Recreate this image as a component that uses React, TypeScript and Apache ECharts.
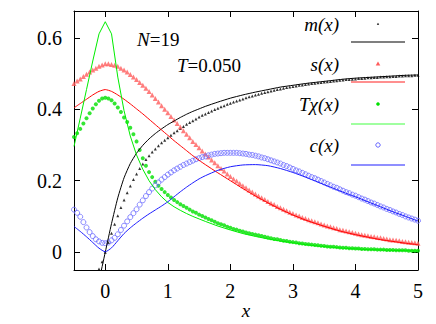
import React, { useEffect, useRef } from "react";
import * as echarts from "echarts";

const X_MIN = -0.5;
const X_MAX = 5;
const Y_MIN = -0.05;
const Y_MAX = 0.675;
const X_TICKS = [0, 1, 2, 3, 4, 5];
const Y_TICKS = [0, 0.2, 0.4, 0.6];
const X_TITLE = "x";

// simulation points: x from -0.5 to 5.0 in steps of 0.05
const SIM_X0 = -0.5;
const SIM_STEP = 0.05;

const M_PTS = [
  -0.205, -0.19, -0.17, -0.152, -0.132, -0.112, -0.09, -0.07, -0.047, -0.027,
  0, 0.027, 0.053, 0.078, 0.102, 0.125, 0.146, 0.166, 0.185, 0.203,
  0.219, 0.234, 0.247, 0.259, 0.27, 0.28, 0.289, 0.298, 0.306, 0.313,
  0.32, 0.327, 0.334, 0.34, 0.346, 0.352, 0.358, 0.363, 0.368, 0.373,
  0.378, 0.383, 0.387, 0.391, 0.395, 0.399, 0.403, 0.407, 0.41, 0.414,
  0.417, 0.42, 0.423, 0.426, 0.429, 0.432, 0.435, 0.437, 0.44, 0.442,
  0.445, 0.447, 0.449, 0.451, 0.453, 0.455, 0.457, 0.459, 0.461, 0.462,
  0.464, 0.465, 0.467, 0.468, 0.469, 0.471, 0.472, 0.473, 0.474, 0.475,
  0.476, 0.477, 0.478, 0.479, 0.48, 0.481, 0.482, 0.483, 0.483, 0.484,
  0.485, 0.486, 0.486, 0.487, 0.488, 0.488, 0.489, 0.489, 0.49, 0.49,
  0.491, 0.491, 0.492, 0.492, 0.493, 0.493, 0.494, 0.494, 0.494, 0.495,
  0.495,
];

const S_PTS = [
  0.472, 0.479, 0.485, 0.492, 0.498, 0.504, 0.51, 0.515, 0.52, 0.524,
  0.527, 0.527, 0.525, 0.523, 0.52, 0.515, 0.51, 0.504, 0.497, 0.49,
  0.483, 0.475, 0.467, 0.459, 0.45, 0.44, 0.43, 0.42, 0.41, 0.4,
  0.39, 0.38, 0.37, 0.36, 0.35, 0.34, 0.33, 0.32, 0.31, 0.301,
  0.292, 0.283, 0.275, 0.266, 0.258, 0.25, 0.242, 0.234, 0.227, 0.219,
  0.212, 0.205, 0.199, 0.192, 0.186, 0.18, 0.174, 0.168, 0.163, 0.157,
  0.152, 0.147, 0.142, 0.137, 0.133, 0.128, 0.124, 0.12, 0.116, 0.112,
  0.108, 0.104, 0.101, 0.097, 0.094, 0.091, 0.088, 0.085, 0.082, 0.079,
  0.076, 0.073, 0.071, 0.068, 0.066, 0.063, 0.061, 0.059, 0.057, 0.055,
  0.053, 0.051, 0.049, 0.047, 0.046, 0.044, 0.043, 0.041, 0.04, 0.038,
  0.037, 0.035, 0.034, 0.033, 0.032, 0.03, 0.029, 0.028, 0.027, 0.026,
  0.025,
];

const CHI_PTS = [
  0.322, 0.333, 0.345, 0.36, 0.375, 0.389, 0.402, 0.414, 0.424, 0.43,
  0.432, 0.43, 0.425, 0.416, 0.405, 0.392, 0.377, 0.364, 0.348, 0.33,
  0.31, 0.286, 0.263, 0.242, 0.224, 0.21, 0.197, 0.186, 0.177, 0.168,
  0.16, 0.153, 0.146, 0.14, 0.134, 0.129, 0.124, 0.119, 0.114, 0.11,
  0.105, 0.101, 0.097, 0.093, 0.089, 0.085, 0.081, 0.078, 0.075, 0.071,
  0.068, 0.065, 0.063, 0.06, 0.058, 0.055, 0.053, 0.051, 0.049, 0.047,
  0.045, 0.043, 0.041, 0.039, 0.037, 0.036, 0.034, 0.032, 0.031, 0.029,
  0.028, 0.027, 0.025, 0.024, 0.023, 0.022, 0.021, 0.02, 0.019, 0.018,
  0.017, 0.016, 0.015, 0.015, 0.014, 0.013, 0.012, 0.012, 0.011, 0.011,
  0.01, 0.01, 0.009, 0.009, 0.008, 0.008, 0.008, 0.007, 0.007, 0.007,
  0.006, 0.006, 0.006, 0.005, 0.005, 0.005, 0.005, 0.004, 0.004, 0.004,
  0.004,
];

const C_PTS = [
  0.119, 0.11, 0.099, 0.084, 0.069, 0.056, 0.045, 0.036, 0.03, 0.026,
  0.025, 0.027, 0.033, 0.04, 0.05, 0.062, 0.074, 0.086, 0.098, 0.109,
  0.12, 0.133, 0.145, 0.157, 0.168, 0.178, 0.187, 0.195, 0.203, 0.21,
  0.217, 0.223, 0.229, 0.234, 0.239, 0.244, 0.248, 0.252, 0.256, 0.26,
  0.263, 0.266, 0.268, 0.271, 0.273, 0.275, 0.276, 0.277, 0.278, 0.278,
  0.278, 0.278, 0.278, 0.277, 0.276, 0.275, 0.273, 0.272, 0.27, 0.268,
  0.265, 0.263, 0.26, 0.257, 0.254, 0.251, 0.248, 0.244, 0.241, 0.237,
  0.233, 0.229, 0.226, 0.222, 0.218, 0.214, 0.21, 0.207, 0.203, 0.199,
  0.195, 0.191, 0.187, 0.183, 0.18, 0.176, 0.172, 0.168, 0.165, 0.161,
  0.158, 0.154, 0.15, 0.147, 0.143, 0.139, 0.136, 0.132, 0.128, 0.125,
  0.121, 0.118, 0.114, 0.111, 0.107, 0.104, 0.1, 0.097, 0.094, 0.091,
  0.088,
];

// theory curves
const THEORY_X = [
  -0.5, -0.4, -0.3, -0.2, -0.1, 0, 0.1, 0.2, 0.3, 0.4, 0.5, 0.6, 0.7, 0.8, 0.9,
  1.0, 1.1, 1.2, 1.3, 1.4, 1.5, 1.6, 1.8, 2.0, 2.2, 2.4, 2.6, 2.8, 3.0, 3.2,
  3.4, 3.6, 3.8, 4.0, 4.2, 4.4, 4.6, 4.8, 5.0,
];
const M_LINE = [
  -0.277, -0.248, -0.208, -0.152, -0.08, 0, 0.08, 0.152, 0.208, 0.248, 0.277,
  0.299, 0.317, 0.332, 0.345, 0.357, 0.367, 0.377, 0.386, 0.394, 0.401, 0.408,
  0.42, 0.431, 0.44, 0.448, 0.455, 0.462, 0.467, 0.472, 0.476, 0.48, 0.484,
  0.487, 0.489, 0.491, 0.493, 0.495, 0.496,
];
const S_LINE = [
  0.404, 0.416, 0.428, 0.44, 0.45, 0.455, 0.45, 0.44, 0.428, 0.415, 0.401,
  0.387, 0.372, 0.357, 0.342, 0.327, 0.312, 0.298, 0.284, 0.27, 0.257, 0.245,
  0.222, 0.2, 0.178, 0.157, 0.138, 0.12, 0.104, 0.09, 0.078, 0.067, 0.057,
  0.049, 0.042, 0.035, 0.03, 0.025, 0.021,
];
const CHI_LINE = [
  0.296, 0.375, 0.455, 0.535, 0.611, 0.645, 0.611, 0.49, 0.396, 0.325, 0.272,
  0.232, 0.2, 0.175, 0.155, 0.139, 0.127, 0.117, 0.108, 0.1, 0.093, 0.086,
  0.073, 0.062, 0.052, 0.044, 0.037, 0.031, 0.026, 0.021, 0.017, 0.014, 0.011,
  0.009, 0.007, 0.006, 0.005, 0.004, 0.003,
];
const C_LINE = [
  0.072, 0.058, 0.043, 0.027, 0.011, 0.001, 0.012, 0.032, 0.052, 0.068, 0.082,
  0.095, 0.107, 0.118, 0.129, 0.141, 0.155, 0.169, 0.182, 0.194, 0.205, 0.214,
  0.229, 0.239, 0.244, 0.245, 0.242, 0.234, 0.223, 0.21, 0.196, 0.182, 0.168,
  0.155, 0.141, 0.127, 0.113, 0.1, 0.087,
];

const LEGEND_LABELS = ["m(x)", "s(x)", "Tχ(x)", "c(x)"];
const N_LABEL = "19";
const T_LABEL = "0.050";

const SERIF = "Liberation Serif";

const simPairs = (ys: number[]) =>
  ys.map((y, i) => [Number((SIM_X0 + i * SIM_STEP).toFixed(2)), y]);
const theoryPairs = (ys: number[]) => ys.map((y, i) => [THEORY_X[i], y]);

export default function App() {
  const ref = useRef<HTMLDivElement>(null);
  useEffect(() => {
    document.body.style.margin = "0";
    if (!ref.current) return;
    const chart = echarts.init(ref.current, undefined, { renderer: "svg" });

    const BLACK = "#000000";
    const RED_P = "#ff5c5c";
    const RED_L = "#ff0000";
    const GREEN_P = "#00e000";
    const GREEN_L = "#00ee00";
    const BLUE_P = "#6b6bff";
    const BLUE_L = "#1a1aff";

    const legendTextX = 339;
    const legendMarkX = 378;
    const lx1 = 351;
    const lx2 = 405;
    const rowsY = [24, 64, 104, 145];
    const lineY = [42, 82, 124, 165];
    const lineColors = ["#555555", "#ff6a6a", "#80ff80", "#6a6aff"];

    const graphic: any[] = [];
    LEGEND_LABELS.forEach((t, i) => {
      graphic.push({
        type: "text",
        x: legendTextX,
        y: rowsY[i],
        style: {
          text: t,
          fontFamily: SERIF,
          fontSize: 19,
          fontStyle: "italic",
          fill: "#000",
          align: "right",
          textAlign: "right",
          verticalAlign: "middle",
          textVerticalAlign: "middle",
        },
      });
      graphic.push({
        type: "line",
        shape: { x1: lx1, y1: lineY[i], x2: lx2, y2: lineY[i] },
        style: { stroke: lineColors[i], lineWidth: 1.5 },
      });
    });
    graphic.push({
      type: "polygon",
      shape: { points: [[legendMarkX - 1.2, rowsY[0] + 0.8], [legendMarkX + 1.2, rowsY[0] + 0.8], [legendMarkX, rowsY[0] - 1.2]] },
      style: { fill: BLACK },
    });
    graphic.push({
      type: "polygon",
      shape: { points: [[legendMarkX - 2.3, rowsY[1] + 1.6], [legendMarkX + 2.3, rowsY[1] + 1.6], [legendMarkX, rowsY[1] - 2.4]] },
      style: { fill: RED_P },
    });
    graphic.push({
      type: "circle",
      shape: { cx: legendMarkX, cy: rowsY[2], r: 1.8 },
      style: { fill: GREEN_P },
    });
    graphic.push({
      type: "circle",
      shape: { cx: legendMarkX, cy: rowsY[3], r: 2.2 },
      style: { fill: "none", stroke: BLUE_P, lineWidth: 1 },
    });
    const annot = (x: number, y: number, italic: string, rest: string) => ({
      type: "text",
      x,
      y,
      style: {
        text: `{i|${italic}}{r|=${rest}}`,
        rich: {
          i: { fontStyle: "italic", fontSize: 19, fontFamily: SERIF, fill: "#000", color: "#000" },
          r: { fontSize: 19, fontFamily: SERIF, fill: "#000", color: "#000" },
        },
        fontFamily: SERIF,
        fontSize: 19,
        verticalAlign: "middle",
        textVerticalAlign: "middle",
      },
    });
    graphic.push(annot(137, 39, "N", N_LABEL));
    graphic.push(annot(177, 65, "T", T_LABEL));
    // x-axis title
    graphic.push({
      type: "text",
      x: 246,
      y: 310,
      style: {
        text: X_TITLE,
        fontFamily: SERIF,
        fontSize: 19,
        fontStyle: "italic",
        fill: "#000",
        align: "center",
        textAlign: "center",
        verticalAlign: "middle",
        textVerticalAlign: "middle",
      },
    });

    const axisLine = { show: true, onZero: false, lineStyle: { color: "#000", width: 1 } };
    const tick = (vals: number[]) => ({
      show: true,
      inside: true,
      length: 6,
      customValues: vals,
      lineStyle: { color: "#000" },
    });

    chart.setOption({
      animation: false,
      backgroundColor: "#ffffff",
      textStyle: { fontFamily: SERIF },
      grid: { left: 74, top: 11, right: 18, bottom: 54, outerBoundsMode: "none" },
      xAxis: [
        {
          type: "value",
          min: X_MIN,
          max: X_MAX,
          position: "bottom",
          axisLine,
          axisTick: tick(X_TICKS),
          axisLabel: {
            customValues: X_TICKS,
            color: "#000",
            fontFamily: SERIF,
            fontSize: 20,
            margin: 11,
            formatter: (v: number) => String(v),
          },
          splitLine: { show: false },
        },
        {
          type: "value",
          min: X_MIN,
          max: X_MAX,
          position: "top",
          axisLine,
          axisTick: tick(X_TICKS),
          axisLabel: { show: false },
          splitLine: { show: false },
        },
      ],
      yAxis: [
        {
          type: "value",
          min: Y_MIN,
          max: Y_MAX,
          position: "left",
          axisLine,
          axisTick: tick(Y_TICKS),
          axisLabel: {
            customValues: Y_TICKS,
            color: "#000",
            fontFamily: SERIF,
            fontSize: 20,
            margin: 12,
            formatter: (v: number) => String(v),
          },
          splitLine: { show: false },
        },
        {
          type: "value",
          min: Y_MIN,
          max: Y_MAX,
          position: "right",
          axisLine,
          axisTick: tick(Y_TICKS),
          axisLabel: { show: false },
          splitLine: { show: false },
        },
      ],
      series: [
        {
          name: "m pts",
          type: "scatter",
          data: simPairs(M_PTS),
          symbol: "triangle",
          symbolSize: 3,
          itemStyle: { color: BLACK },
          clip: true,
        },
        {
          name: "m line",
          type: "line",
          data: theoryPairs(M_LINE),
          showSymbol: false,
          smooth: 0.2,
          lineStyle: { color: BLACK, width: 1 },
          clip: true,
        },
        {
          name: "s pts",
          type: "scatter",
          data: simPairs(S_PTS),
          symbol: "triangle",
          symbolSize: 5,
          itemStyle: { color: RED_P },
          clip: true,
        },
        {
          name: "s line",
          type: "line",
          data: theoryPairs(S_LINE),
          showSymbol: false,
          smooth: 0.2,
          lineStyle: { color: RED_L, width: 1 },
          clip: true,
        },
        {
          name: "chi pts",
          type: "scatter",
          data: simPairs(CHI_PTS),
          symbol: "circle",
          symbolSize: 4,
          itemStyle: { color: GREEN_P },
          clip: true,
        },
        {
          name: "chi line",
          type: "line",
          data: theoryPairs(CHI_LINE),
          showSymbol: false,
          lineStyle: { color: GREEN_L, width: 1 },
          clip: true,
        },
        {
          name: "c pts",
          type: "scatter",
          data: simPairs(C_PTS),
          symbol: "circle",
          symbolSize: 5,
          itemStyle: { color: "rgba(0,0,0,0)", borderColor: BLUE_P, borderWidth: 1 },
          clip: true,
        },
        {
          name: "c line",
          type: "line",
          data: theoryPairs(C_LINE),
          showSymbol: false,
          smooth: 0.2,
          lineStyle: { color: BLUE_L, width: 1 },
          clip: true,
        },
      ],
      graphic,
    });
    return () => chart.dispose();
  }, []);
  return <div ref={ref} style={{ width: 436, height: 324 }} />;
}
